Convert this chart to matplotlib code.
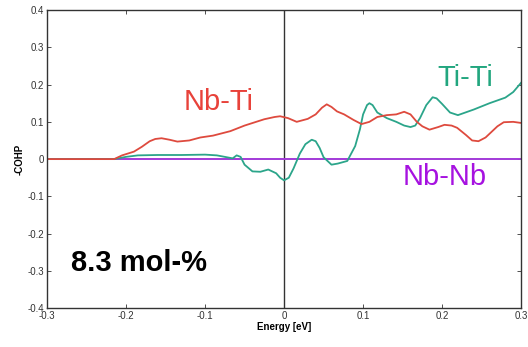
import numpy as np
import matplotlib
matplotlib.use("Agg")
from matplotlib import pyplot as plt

# energies and -COHP values
e_nbti = [-0.3, -0.215, -0.205, -0.19, -0.18, -0.17, -0.163, -0.155, -0.145, -0.135,
          -0.12, -0.106, -0.09, -0.068, -0.05, -0.025, -0.012, -0.005, 0.005, 0.016,
          0.03, 0.04, 0.048, 0.054, 0.06, 0.067, 0.076, 0.088, 0.098, 0.108,
          0.118, 0.13, 0.142, 0.152, 0.16, 0.168, 0.175, 0.184, 0.195, 0.203,
          0.212, 0.219, 0.23, 0.238, 0.246, 0.255, 0.262, 0.27, 0.278, 0.29, 0.3]
nbti = [0, 0, 0.01, 0.02, 0.033, 0.048, 0.054, 0.056, 0.052, 0.047,
        0.05, 0.058, 0.063, 0.075, 0.09, 0.107, 0.113, 0.115, 0.11, 0.10,
        0.108, 0.12, 0.138, 0.147, 0.14, 0.128, 0.12, 0.105, 0.094, 0.10,
        0.113, 0.118, 0.12, 0.127, 0.12, 0.1, 0.088, 0.079, 0.086, 0.092,
        0.09, 0.084, 0.065, 0.05, 0.048, 0.058, 0.072, 0.088, 0.099, 0.10, 0.097]

e_titi = [-0.3, -0.215, -0.2, -0.185, -0.16, -0.13, -0.1, -0.085, -0.07, -0.065,
          -0.06, -0.055, -0.05, -0.04, -0.03, -0.02, -0.01, -0.005, 0.0, 0.006,
          0.012, 0.02, 0.027, 0.035, 0.04, 0.045, 0.05, 0.06, 0.068, 0.08,
          0.09, 0.096, 0.1, 0.105, 0.108, 0.112, 0.118, 0.13, 0.142, 0.152,
          0.16, 0.166, 0.172, 0.18, 0.188, 0.193, 0.2, 0.21, 0.22, 0.24,
          0.26, 0.28, 0.29, 0.3]
titi = [0, 0, 0.006, 0.01, 0.011, 0.011, 0.012, 0.01, 0.004, 0.002,
        0.01, 0.006, -0.015, -0.033, -0.034, -0.028, -0.038, -0.05, -0.057, -0.05,
        -0.025, 0.015, 0.04, 0.052, 0.048, 0.03, 0.005, -0.015, -0.012, -0.005,
        0.035, 0.08, 0.12, 0.145, 0.15, 0.145, 0.125, 0.11, 0.1, 0.09,
        0.086, 0.09, 0.11, 0.145, 0.166, 0.163, 0.148, 0.125, 0.118, 0.133,
        0.15, 0.165, 0.18, 0.205]

e_nbnb = [-0.3, 0.3]
nbnb = [0, 0]

xticks = [-0.3, -0.2, -0.1, 0, 0.1, 0.2, 0.3]
yticks = [-0.4, -0.3, -0.2, -0.1, 0, 0.1, 0.2, 0.3, 0.4]

plt.rcParams['font.family'] = ['Liberation Sans', 'DejaVu Sans']

fig = plt.figure(figsize=(5.28, 3.47), dpi=100)
ax = fig.add_axes([0.089, 0.112, 0.898, 0.859])

ax.axvline(0, color='#333333', lw=1.0)
ax.plot(e_nbnb, nbnb, color='#a23ad8', lw=1.4)
ax.plot(e_titi, titi, color='#2ba58a', lw=1.3)
ax.plot(e_nbti, nbti, color='#de4a3e', lw=1.3)

ax.set_xlim(-0.3, 0.3)
ax.set_ylim(-0.4, 0.4)
ax.set_xticks(xticks)
ax.set_xticklabels(['-0.3', '-0.2', '-0.1', '0', '0.1', '0.2', '0.3'])
ax.set_yticks(yticks)
ax.set_yticklabels(['-0.4', '-0.3', '-0.2', '-0.1', '0', '0.1', '0.2', '0.3', '0.4'])
ax.tick_params(direction='in', top=True, right=True, labelsize=7, colors='#333333',
               length=3, width=0.6, pad=2)
for s in ax.spines.values():
    s.set_linewidth(1.0)
    s.set_color('#333333')

ax.set_xlabel('Energy [eV]', fontsize=7, fontweight='bold', labelpad=1)
ax.set_ylabel('-COHP', fontsize=7, fontweight='bold', labelpad=2)

ax.text(-0.083, 0.153, 'Nb-Ti', color='#e8423a', fontsize=21, ha='center', va='center')
ax.text(0.229, 0.218, 'Ti-Ti', color='#22a67f', fontsize=21, ha='center', va='center')
ax.text(0.203, -0.047, 'Nb-Nb', color='#a612e0', fontsize=21, ha='center', va='center')
ax.text(-0.184, -0.28, '8.3 mol-%', color='black', fontsize=21, fontweight='bold',
        ha='center', va='center')

fig.savefig('out.png', dpi=100)
